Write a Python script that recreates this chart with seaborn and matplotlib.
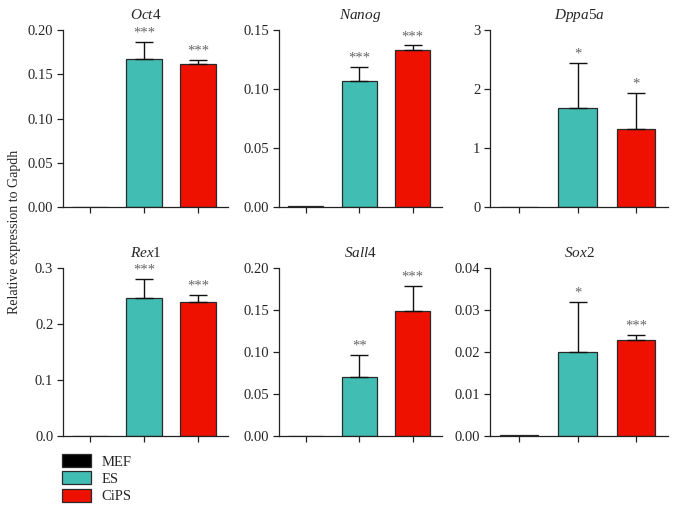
import numpy as np
import pandas as pd
import matplotlib
matplotlib.use("Agg")
import matplotlib.pyplot as plt
from matplotlib.patches import Patch
import seaborn as sns

groups = ["MEF", "ES", "CiPS"]
colors = ["#000000", "#41BDB3", "#EE1100"]

oct4_mean = [0.0005, 0.167, 0.162]
oct4_err = [0.0, 0.020, 0.004]
oct4_sig = ["", "***", "***"]

nanog_mean = [0.0005, 0.107, 0.133]
nanog_err = [0.0, 0.012, 0.004]
nanog_sig = ["", "***", "***"]

dppa5a_mean = [0.0, 1.68, 1.33]
dppa5a_err = [0.0, 0.76, 0.60]
dppa5a_sig = ["", "*", "*"]

rex1_mean = [0.0, 0.246, 0.239]
rex1_err = [0.0, 0.035, 0.013]
rex1_sig = ["", "***", "***"]

sall4_mean = [0.0, 0.070, 0.149]
sall4_err = [0.0, 0.027, 0.030]
sall4_sig = ["", "**", "***"]

sox2_mean = [0.0003, 0.020, 0.0229]
sox2_err = [0.0, 0.012, 0.0012]
sox2_sig = ["", "*", "***"]

titles = [r"$\mathit{Oct4}$", r"$\mathit{Nanog}$", r"$\mathit{Dppa5a}$",
          r"$\mathit{Rex}$1", r"$\mathit{Sall}$4", r"$\mathit{Sox}$2"]

oct4_ticks = [0, 0.05, 0.10, 0.15, 0.20]
oct4_labels = ["0.00", "0.05", "0.10", "0.15", "0.20"]
nanog_ticks = [0, 0.05, 0.10, 0.15]
nanog_labels = ["0.00", "0.05", "0.10", "0.15"]
dppa5a_ticks = [0, 1, 2, 3]
dppa5a_labels = ["0", "1", "2", "3"]
rex1_ticks = [0, 0.1, 0.2, 0.3]
rex1_labels = ["0.0", "0.1", "0.2", "0.3"]
sall4_ticks = [0, 0.05, 0.10, 0.15, 0.20]
sall4_labels = ["0.00", "0.05", "0.10", "0.15", "0.20"]
sox2_ticks = [0, 0.01, 0.02, 0.03, 0.04]
sox2_labels = ["0.00", "0.01", "0.02", "0.03", "0.04"]

panels = [
    (oct4_mean, oct4_err, oct4_sig, oct4_ticks, oct4_labels),
    (nanog_mean, nanog_err, nanog_sig, nanog_ticks, nanog_labels),
    (dppa5a_mean, dppa5a_err, dppa5a_sig, dppa5a_ticks, dppa5a_labels),
    (rex1_mean, rex1_err, rex1_sig, rex1_ticks, rex1_labels),
    (sall4_mean, sall4_err, sall4_sig, sall4_ticks, sall4_labels),
    (sox2_mean, sox2_err, sox2_sig, sox2_ticks, sox2_labels),
]

sns.set_style("ticks")
plt.rcParams["font.family"] = ["Liberation Serif", "DejaVu Serif"]
plt.rcParams["mathtext.fontset"] = "custom"
plt.rcParams["mathtext.rm"] = "Liberation Serif"
plt.rcParams["mathtext.it"] = "Liberation Serif:italic"

W, H = 677, 512
fig = plt.figure(figsize=(W / 100, H / 100), dpi=100)

cols = [(63, 228), (279, 442), (490, 668)]
rows = [(30, 207), (268, 436)]

for idx, (mean, err, sig, ticks, labels) in enumerate(panels):
    r, c = divmod(idx, 3)
    x0, x1 = cols[c]
    yt, yb = rows[r]
    ax = fig.add_axes([x0 / W, 1 - yb / H, (x1 - x0) / W, (yb - yt) / H])
    df = pd.DataFrame({"group": groups, "value": mean})
    sns.barplot(data=df, x="group", y="value", hue="group", order=groups,
                hue_order=groups, palette=colors, width=0.66, dodge=False,
                saturation=1, edgecolor="#2a2a2a", linewidth=0.9,
                legend=False, ax=ax)
    for i in range(3):
        if err[i] > 0:
            ax.errorbar(i, mean[i], yerr=[[0], [err[i]]], fmt="none",
                        ecolor="#111111", elinewidth=1.0, capsize=6.5,
                        capthick=1.0, zorder=1)
        if sig[i]:
            ax.annotate(sig[i], (i, mean[i] + err[i]), xytext=(0, 1.5),
                        textcoords="offset points", ha="center", va="bottom",
                        fontsize=10.5, color="#666666")
    ax.set_xlim(-0.5, 2.55)
    ax.set_ylim(ticks[0], ticks[-1])
    ax.set_yticks(ticks)
    ax.set_yticklabels(labels, fontsize=10.5)
    ax.set_xticks([0, 1, 2])
    ax.set_xticklabels(["", "", ""])
    ax.set_xlabel("")
    ax.set_ylabel("")
    ax.tick_params(axis="both", direction="out", length=4, width=0.9,
                   color="#222222", pad=3)
    sns.despine(ax=ax)
    for s in ["left", "bottom"]:
        ax.spines[s].set_linewidth(0.9)
        ax.spines[s].set_color("#222222")
    ax.set_title(titles[idx], fontsize=11, pad=8)

fig.text(15 / W, 1 - 232 / H, "Relative expression to Gapdh", rotation=90,
         ha="center", va="center", fontsize=10)

handles = [Patch(facecolor=col, edgecolor="#2a2a2a", linewidth=0.9, label=g)
           for g, col in zip(groups, colors)]
fig.legend(handles=handles, loc="upper left",
           bbox_to_anchor=(62 / W, 1 - 454 / H), frameon=False,
           handlelength=2.0, handleheight=1.0, labelspacing=0.2,
           handletextpad=0.7, borderpad=0, borderaxespad=0, fontsize=10.5)

fig.savefig("out.png", dpi=100)
